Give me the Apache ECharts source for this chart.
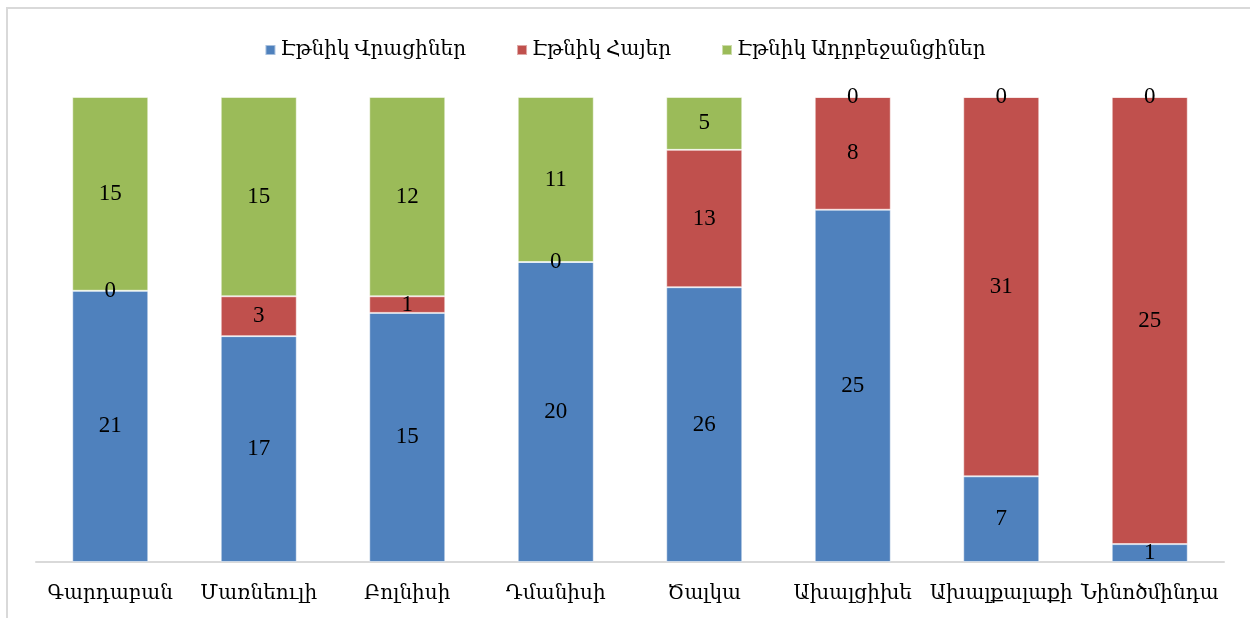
<!DOCTYPE html>
<html>
<head>
<meta charset="utf-8">
<script src="https://cdn.jsdelivr.net/npm/echarts@6/dist/echarts.min.js"></script>
<style>
  html, body { margin: 0; padding: 0; background: #fff; }
  #chart { width: 1250px; height: 618px; }
</style>
</head>
<body>
<div id="chart"></div>
<script>
const categories = ['Գարդաբան', 'Մառնեուլի', 'Բոլնիսի', 'Դմանիսի', 'Ծալկա', 'Ախալցիխե', 'Ախալքալաքի', 'Նինոծմինդա']
const seriesNames = ['Էթնիկ Վրացիներ', 'Էթնիկ Հայեր', 'Էթնիկ Ադրբեջանցիներ']
const georgians = [21, 17, 15, 20, 26, 25, 7, 1]
const armenians = [0, 3, 1, 0, 13, 8, 31, 25]
const azerbaijanis = [15, 15, 12, 11, 5, 0, 0, 0]
const colors = ['#4F81BD', '#C0504D', '#9BBB59']

const font = "'Liberation Serif', 'DejaVu Serif', serif"
const raw = [georgians, armenians, azerbaijanis]
const totals = categories.map((c, i) => raw.reduce((s, arr) => s + arr[i], 0))

// 100% stack: bar heights are shares, labels show the counts
const series = raw.map((arr, k) => ({
  name: seriesNames[k],
  type: 'bar',
  stack: 'total',
  barWidth: 76,
  itemStyle: { color: colors[k], borderColor: 'rgba(255,255,255,0.5)', borderWidth: 1 },
  label: {
    show: true,
    position: 'inside',
    color: '#000',
    fontFamily: font,
    fontSize: 23,
    formatter: p => arr[p.dataIndex]
  },
  data: arr.map((v, i) => v / totals[i] * 100)
}))

const chart = echarts.init(document.getElementById('chart'))
chart.setOption({
  animation: false,
  graphic: [{
    type: 'rect',
    shape: { x: 7, y: 8, width: 1300, height: 700 },
    style: { fill: 'none', stroke: '#d9d9d9', lineWidth: 2 },
    silent: true
  }],
  legend: {
    top: 35,
    left: 'center',
    itemWidth: 10,
    itemHeight: 10,
    itemGap: 50,
    icon: 'rect',
    textStyle: { fontFamily: font, fontSize: 20, color: '#000' },
    data: seriesNames
  },
  grid: { left: 36, right: 26, top: 97, bottom: 56 },
  xAxis: {
    type: 'category',
    data: categories,
    axisLine: { lineStyle: { color: '#d9d9d9', width: 2 } },
    axisTick: { show: false },
    axisLabel: { color: '#000', fontFamily: font, fontSize: 20, margin: 22, interval: 0 }
  },
  yAxis: {
    type: 'value',
    min: 0,
    max: 100,
    show: false
  },
  series
})
</script>
</body>
</html>
